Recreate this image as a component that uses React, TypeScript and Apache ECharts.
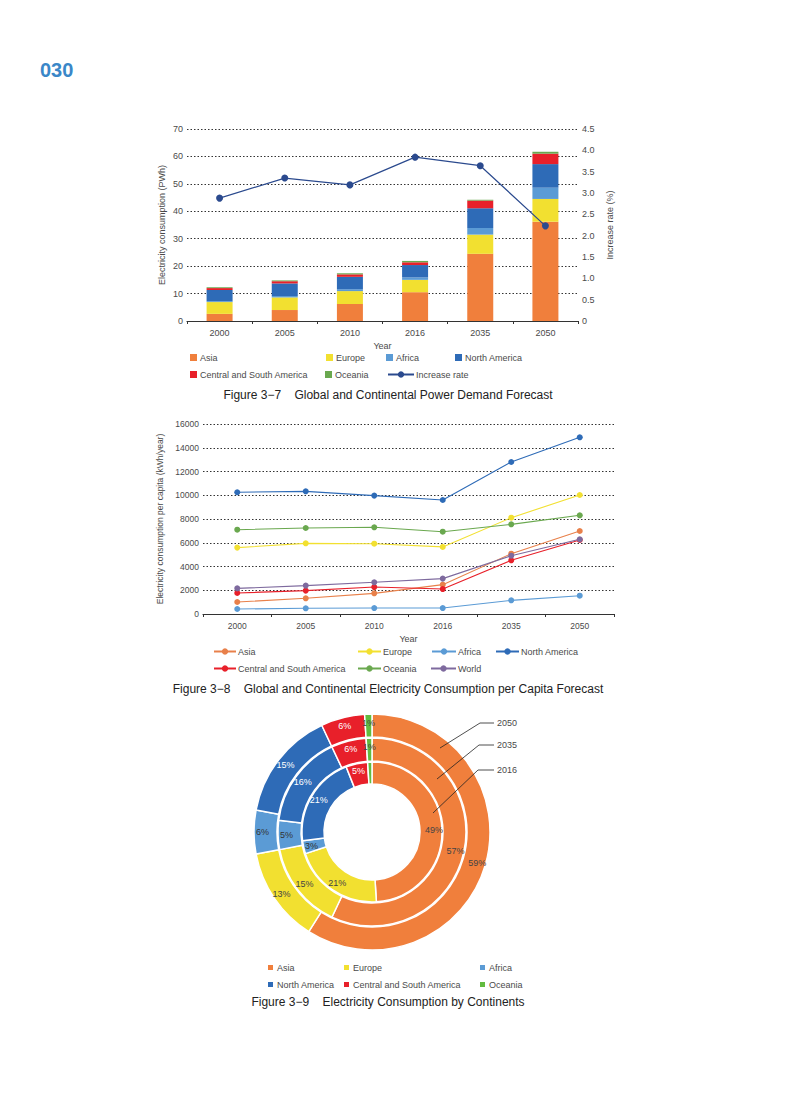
import React, { useEffect, useRef } from "react";
import * as echarts from "echarts";

// ---------- Data ----------
const years = ["2000", "2005", "2010", "2016", "2035", "2050"];

// Figure 3-7: electricity consumption (PWh), stacked
const asiaPWh = [2.6, 4.0, 6.2, 10.5, 24.5, 36.2];
const europePWh = [4.3, 4.6, 4.7, 4.5, 7.0, 8.3];
const africaPWh = [0.3, 0.5, 0.7, 0.9, 2.4, 4.1];
const northAmericaPWh = [4.1, 4.6, 4.5, 4.5, 7.2, 8.6];
const csAmericaPWh = [0.7, 0.8, 0.9, 1.0, 2.8, 3.8];
const oceaniaPWh = [0.3, 0.3, 0.4, 0.5, 0.3, 0.7];
const increaseRate = [2.88, 3.35, 3.19, 3.84, 3.64, 2.23];

// Figure 3-8: per capita consumption (kWh/year)
const asiaPerCapita = [1010, 1320, 1740, 2470, 5080, 6990];
const europePerCapita = [5590, 5950, 5920, 5650, 8110, 10020];
const africaPerCapita = [420, 480, 500, 500, 1150, 1540];
const northAmericaPerCapita = [10250, 10330, 9970, 9600, 12800, 14880];
const csAmericaPerCapita = [1770, 1970, 2270, 2100, 4520, 6230];
const oceaniaPerCapita = [7100, 7240, 7300, 6930, 7550, 8310];
const worldPerCapita = [2160, 2390, 2670, 2980, 4910, 6290];

// Figure 3-9: share by continent (%)
const continents = ["Asia", "Europe", "Africa", "North America", "Central and South America", "Oceania"];
const share2016 = [49, 21, 3, 21, 5, 1];
const share2035 = [57, 15, 5, 16, 6, 1];
const share2050 = [59, 13, 6, 15, 6, 1];
const ringYears = ["2016", "2035", "2050"];

// ---------- Styles ----------
const FONT = "'Liberation Sans', Arial, sans-serif";
const TXT = "#4a4a4a";
const C = {
  asia: "#f07f3c",
  europe: "#f2e030",
  africa: "#5b9bd5",
  na: "#2e6bb7",
  csa: "#e8202a",
  oceania: "#6aa84f",
  oceaniaPie: "#62bb3f",
  rate: "#2b4a8e",
  world: "#7e6a9e",
  asiaLine: "#e8804a",
};

function squareLegend(name: string, left: number, top: number) {
  return {
    data: [name],
    left,
    top,
    orient: "horizontal",
    icon: "rect",
    itemWidth: 7,
    itemHeight: 7,
    padding: 0,
    textStyle: { fontSize: 9, color: TXT, fontFamily: FONT, padding: [0, 0, 0, -2] },
    selectedMode: false,
  };
}

function lineLegend(name: string, left: number, top: number, w = 24) {
  return {
    data: [name],
    left,
    top,
    orient: "horizontal",
    itemWidth: w,
    itemHeight: 8,
    padding: 0,
    textStyle: { fontSize: 9, color: TXT, fontFamily: FONT, padding: [0, 0, 0, -3] },
    selectedMode: false,
  };
}

function useChart(ref: React.RefObject<HTMLDivElement>, option: any) {
  useEffect(() => {
    if (!ref.current) return;
    const chart = echarts.init(ref.current, undefined, { renderer: "svg" });
    chart.setOption(option);
    return () => chart.dispose();
  }, []);
}

const dotted = { show: true, lineStyle: { type: [1.5, 2], color: "#333", width: 1 } };

// ---------- Chart 1 ----------
function option1() {
  const bar = (name: string, data: number[], color: string) => ({
    name,
    type: "bar",
    stack: "total",
    data,
    barWidth: 26,
    itemStyle: { color },
    yAxisIndex: 0,
  });
  return {
    animation: false,
    textStyle: { fontFamily: FONT },
    grid: { left: 187, right: 216, top: 89, bottom: 89 },
    xAxis: {
      type: "category",
      data: years,
      axisLine: { lineStyle: { color: "#333", width: 1.2 } },
      axisTick: { show: true, length: 3, lineStyle: { color: "#333" } },
      axisLabel: { fontSize: 9, color: TXT, margin: 7, fontFamily: FONT },
      name: "Year",
      nameLocation: "middle",
      nameGap: 17,
      nameTextStyle: { fontSize: 9, color: TXT, fontFamily: FONT },
    },
    yAxis: [
      {
        type: "value",
        min: 0,
        max: 70,
        interval: 10,
        axisLine: { show: false },
        axisTick: { show: false },
        splitLine: dotted,
        axisLabel: { fontSize: 9, color: TXT, margin: 4, fontFamily: FONT },
        name: "Electricity consumption (PWh)",
        nameLocation: "middle",
        nameGap: 21,
        nameRotate: 90,
        nameTextStyle: { fontSize: 9, color: TXT, fontFamily: FONT },
      },
      {
        type: "value",
        min: 0,
        max: 4.5,
        interval: 0.5,
        position: "right",
        axisLine: { show: false },
        axisTick: { show: false },
        splitLine: { show: false },
        axisLabel: {
          fontSize: 9,
          color: TXT,
          margin: 4,
          fontFamily: FONT,
          formatter: (v: number) => (v === 0 ? "0" : v.toFixed(1)),
        },
        name: "Increase rate (%)",
        nameLocation: "middle",
        nameGap: 27,
        nameRotate: 90,
        nameTextStyle: { fontSize: 9, color: TXT, fontFamily: FONT },
      },
    ],
    legend: [
      squareLegend("Asia", 190, 313),
      squareLegend("Europe", 326, 313),
      squareLegend("Africa", 386, 313),
      squareLegend("North America", 455, 313),
      squareLegend("Central and South America", 190, 330),
      squareLegend("Oceania", 325, 330),
      lineLegend("Increase rate", 387, 330, 26),
    ],
    series: [
      bar("Asia", asiaPWh, C.asia),
      bar("Europe", europePWh, C.europe),
      bar("Africa", africaPWh, C.africa),
      bar("North America", northAmericaPWh, C.na),
      bar("Central and South America", csAmericaPWh, C.csa),
      bar("Oceania", oceaniaPWh, C.oceania),
      {
        name: "Increase rate",
        type: "line",
        yAxisIndex: 1,
        data: increaseRate,
        symbol: "circle",
        symbolSize: 7,
        lineStyle: { color: C.rate, width: 1.2 },
        itemStyle: { color: C.rate },
        z: 5,
      },
    ],
    graphic: [
      {
        type: "text",
        left: 40,
        top: 20,
        style: { text: "030", fontSize: 20, fontWeight: "bold", fill: "#3a87c8", fontFamily: FONT },
      },
      {
        type: "text",
        x: 388,
        y: 355,
        style: {
          text: "Figure 3\u22127    Global and Continental Power Demand Forecast",
          fontSize: 12,
          fill: "#222",
          fontFamily: FONT,
          align: "center",
          verticalAlign: "middle",
        },
      },
    ],
  };
}

// ---------- Chart 2 ----------
function option2() {
  const line = (name: string, data: number[], color: string) => ({
    name,
    type: "line",
    data,
    symbol: "circle",
    symbolSize: 6,
    lineStyle: { color, width: 1.1 },
    itemStyle: { color },
  });
  return {
    animation: false,
    textStyle: { fontFamily: FONT },
    grid: { left: 203, right: 180, top: 14, bottom: 86 },
    xAxis: {
      type: "category",
      data: years,
      axisLine: { lineStyle: { color: "#333", width: 1.2 } },
      axisTick: { show: true, length: 3, lineStyle: { color: "#333" } },
      axisLabel: { fontSize: 8.5, color: TXT, margin: 7, fontFamily: FONT },
      name: "Year",
      nameLocation: "middle",
      nameGap: 19,
      nameTextStyle: { fontSize: 9, color: TXT, fontFamily: FONT },
    },
    yAxis: {
      type: "value",
      min: 0,
      max: 16000,
      interval: 2000,
      axisLine: { show: false },
      axisTick: { show: false },
      splitLine: dotted,
      axisLabel: { fontSize: 8.5, color: TXT, margin: 4, fontFamily: FONT, formatter: (v: number) => String(v) },
      name: "Electricity consumption per capita (kWh/year)",
      nameLocation: "middle",
      nameGap: 23,
      nameRotate: 90,
      nameTextStyle: { fontSize: 8.5, color: TXT, fontFamily: FONT },
    },
    legend: [
      lineLegend("Asia", 213, 237, 22),
      lineLegend("Europe", 357, 237, 23),
      lineLegend("Africa", 431, 237, 24),
      lineLegend("North America", 495, 237, 23),
      lineLegend("Central and South America", 213, 254, 22),
      lineLegend("Oceania", 357, 254, 23),
      lineLegend("World", 430, 254, 25),
    ],
    series: [
      line("Asia", asiaPerCapita, C.asiaLine),
      line("Europe", europePerCapita, C.europe),
      line("Africa", africaPerCapita, C.africa),
      line("North America", northAmericaPerCapita, C.na),
      line("Central and South America", csAmericaPerCapita, C.csa),
      line("Oceania", oceaniaPerCapita, C.oceania),
      line("World", worldPerCapita, C.world),
    ],
    graphic: [
      {
        type: "text",
        x: 388,
        y: 279,
        style: {
          text: "Figure 3\u22128    Global and Continental Electricity Consumption per Capita Forecast",
          fontSize: 12,
          fill: "#222",
          fontFamily: FONT,
          align: "center",
          verticalAlign: "middle",
        },
      },
    ],
  };
}

// ---------- Chart 3 ----------
function option3() {
  const colors = [C.asia, C.europe, C.africa, C.na, C.csa, C.oceaniaPie];
  const labelColors = ["#444", "#444", "#333", "#fff", "#fff", "#444"];
  const ring = (name: string, values: number[], radius: [number, number]) => ({
    name,
    type: "pie",
    center: [372, 132],
    radius,
    startAngle: 90,
    clockwise: true,
    avoidLabelOverlap: false,
    label: {
      show: true,
      position: "inside",
      formatter: "{c}%",
      fontSize: 9,
      fontFamily: FONT,
    },
    labelLine: { show: false },
    itemStyle: { borderColor: "#fff", borderWidth: 1.5 },
    emphasis: { disabled: true },
    data: continents.map((c, i) => ({
      name: c,
      value: values[i],
      itemStyle: { color: colors[i] },
      label: { color: labelColors[i] },
    })),
  });
  const leader = (pts: number[][], label: string, ty: number) => [
    { type: "polyline", shape: { points: pts }, style: { stroke: "#222", lineWidth: 0.8, fill: "none" }, z: 10 },
    {
      type: "text",
      x: 497,
      y: ty,
      style: { text: label, fontSize: 9, fill: TXT, fontFamily: FONT, align: "left", verticalAlign: "middle" },
      z: 10,
    },
  ];
  return {
    animation: false,
    textStyle: { fontFamily: FONT },
    legend: [
      squareLegend("Asia", 266, 263),
      squareLegend("Europe", 342, 263),
      squareLegend("Africa", 478, 263),
      squareLegend("North America", 266, 280),
      squareLegend("Central and South America", 342, 280),
      squareLegend("Oceania", 478, 280),
    ],
    series: [
      ring(ringYears[0], share2016, [48, 70]),
      ring(ringYears[1], share2035, [71, 94]),
      ring(ringYears[2], share2050, [95, 118]),
    ],
    graphic: [
      ...leader([[440, 48], [480, 23], [494, 23]], "2050", 23),
      ...leader([[437, 79], [479, 45], [494, 45]], "2035", 45),
      ...leader([[433, 113], [478, 70], [494, 70]], "2016", 70),
      {
        type: "text",
        x: 388,
        y: 302,
        style: {
          text: "Figure 3\u22129    Electricity Consumption by Continents",
          fontSize: 12,
          fill: "#222",
          fontFamily: FONT,
          align: "center",
          verticalAlign: "middle",
        },
      },
    ],
  };
}

export default function App() {
  const r1 = useRef<HTMLDivElement>(null);
  const r2 = useRef<HTMLDivElement>(null);
  const r3 = useRef<HTMLDivElement>(null);
  useChart(r1 as any, option1());
  useChart(r2 as any, option2());
  useChart(r3 as any, option3());
  return (
    <div style={{ position: "absolute", left: 0, top: 0, width: 794, height: 1101, background: "#fff" }}>
      <div ref={r1} style={{ position: "absolute", left: 0, top: 40, width: 794, height: 370 }} />
      <div ref={r2} style={{ position: "absolute", left: 0, top: 410, width: 794, height: 290 }} />
      <div ref={r3} style={{ position: "absolute", left: 0, top: 700, width: 794, height: 320 }} />
    </div>
  );
}
